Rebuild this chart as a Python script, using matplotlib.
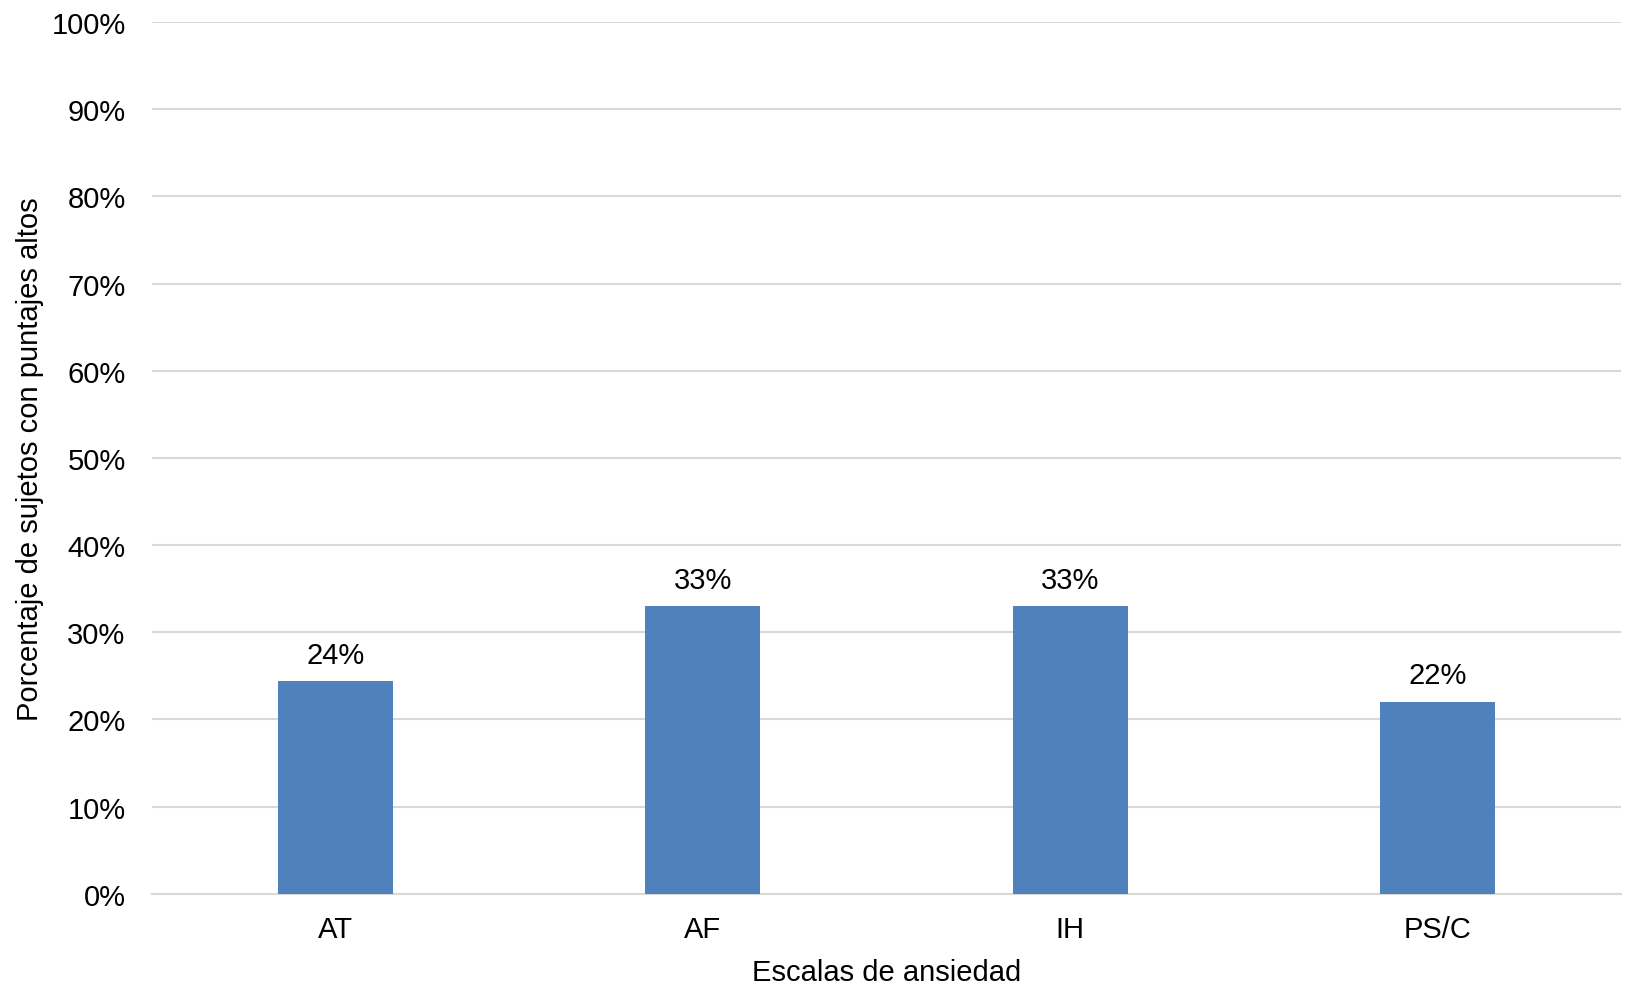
import matplotlib.pyplot as plt
from matplotlib.ticker import PercentFormatter

plt.rcParams['font.family'] = ['Liberation Sans', 'DejaVu Sans']

escalas = ['AT', 'AF', 'IH', 'PS/C']
porcentajes = [24.4, 33.0, 33.0, 22.0]

fig = plt.figure(figsize=(16.34, 9.87), dpi=100)
ax = fig.add_axes([0.093, 0.0935, 0.899, 0.8832])

x = range(len(escalas))
bars = ax.bar(x, porcentajes, width=0.313, color='#4F81BD', zorder=3)

# etiquetas de valor sobre cada barra
for b, v in zip(bars, porcentajes):
    ax.annotate(f'{v:.0f}%', (b.get_x() + b.get_width() / 2, v),
                xytext=(0, 9), textcoords='offset points',
                ha='center', va='bottom', fontsize=21)

ax.set_xlim(-0.5, len(escalas) - 0.5)
ax.set_ylim(0, 100)
ax.set_yticks(range(0, 101, 10))
ax.yaxis.set_major_formatter(PercentFormatter(decimals=0))
ax.set_xticks(list(x))
ax.set_xticklabels(escalas)
ax.tick_params(axis='both', length=0, labelsize=21)
ax.tick_params(axis='y', pad=19)
ax.tick_params(axis='x', pad=15)

ax.grid(axis='y', color='#d9d9d9', linewidth=1.5, zorder=0)
for s in ['top', 'right', 'left']:
    ax.spines[s].set_visible(False)
ax.spines['bottom'].set_color('#d9d9d9')
ax.spines['bottom'].set_linewidth(1.5)

ax.set_xlabel('Escalas de ansiedad', fontsize=21, labelpad=11)
ax.set_ylabel('Porcentaje de sujetos con puntajes altos', fontsize=21, labelpad=5)

fig.savefig('out.png', dpi=100)
